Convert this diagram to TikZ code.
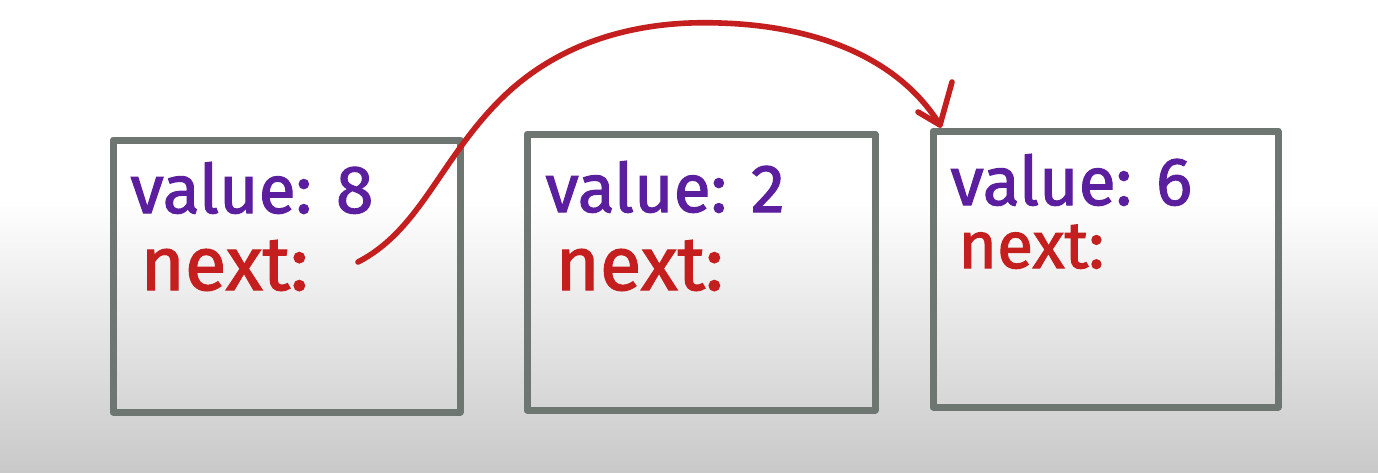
\documentclass[tikz,border=0pt]{standalone}
\usepackage{fontspec}
\setmainfont{Fira Sans}
\newfontfamily\handfont{Fira Sans}[FakeBold=1.6]
\usetikzlibrary{arrows.meta}
\definecolor{boxgray}{HTML}{6E7672}
\definecolor{valpurple}{HTML}{5A1E9E}
\definecolor{nextred}{HTML}{C41E1E}
\definecolor{bgbottom}{HTML}{C9C9C9}
\tikzset{
  listbox/.style={draw=boxgray, line width=3.5pt, line join=round, fill=none},
  valtext/.style={text=valpurple, font=\handfont\fontsize{34}{37}\selectfont, anchor=base west, inner sep=0pt},
  nexttext/.style={text=nextred, font=\handfont\fontsize{38}{41}\selectfont, anchor=base west, inner sep=0pt},
  ptr/.style={draw=nextred, line width=2.8pt, line cap=round, line join=round}
}
\begin{document}
\begin{tikzpicture}[x=0.5pt, y=-0.5pt]
  \useasboundingbox (0,0) rectangle (1378,472);
  \fill[white] (0,0) rectangle (1378,200);
  \shade[top color=white, bottom color=bgbottom] (0,199) rectangle (1378,472);

  % boxes
  \draw[listbox] (113,140) rectangle (460,412);
  \draw[listbox] (527,134) rectangle (875,410);
  \draw[listbox] (933,131) rectangle (1278,407);

  % texts
  \node[valtext] (v1) at (130,213) {value: 8};
  \node[nexttext] (n1) at (140,290) {next:};
  \node[valtext] (v2) at (545,212) {value: 2};
  \node[nexttext] (n2) at (555,290) {next:};
  \node[valtext] (v3) at (950,205) {value: 6};
  \node[nexttext, font=\handfont\fontsize{33}{36}\selectfont] (n3) at (958,268) {next:};

  % pointer arrow
  \coordinate (s) at (358,262);
  \coordinate (tip) at (940,125);
  \coordinate (b1) at (918,112);
  \coordinate (b2) at (952,82);
  \draw[ptr] (s) .. controls (420,230) and (440,160) .. (500,100)
             .. controls (560,40) and (640,20) .. (720,23)
             .. controls (820,26) and (900,60) .. (tip);
  \draw[ptr] (b1) -- (tip) -- (b2);
\end{tikzpicture}
\end{document}
